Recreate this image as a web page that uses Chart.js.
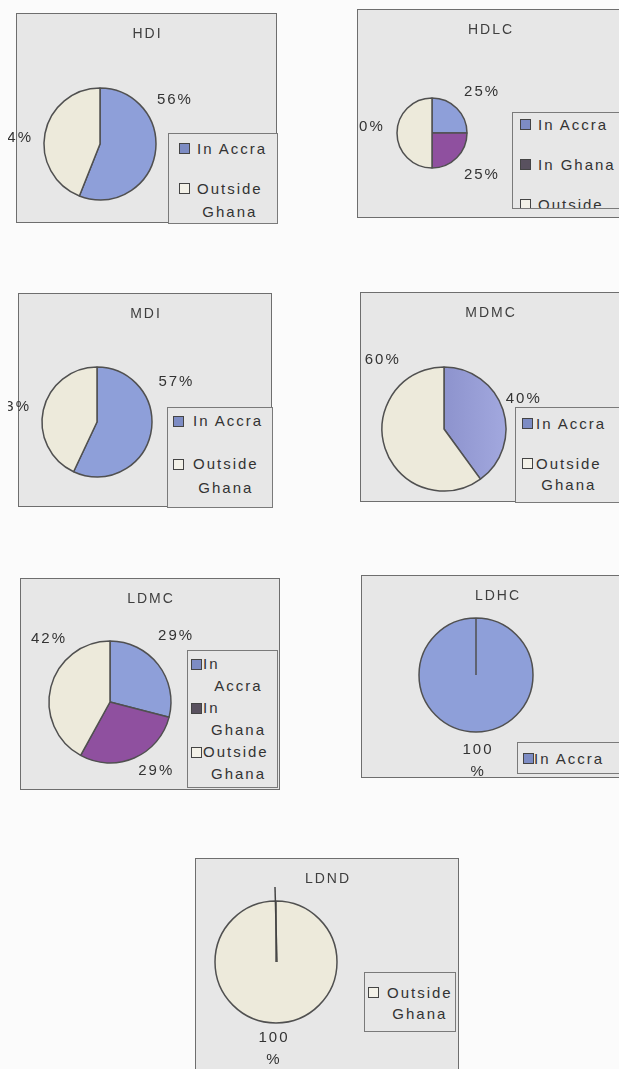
<!DOCTYPE html>
<html>
<head>
<meta charset="utf-8">
<script src="https://cdn.jsdelivr.net/npm/chart.js@4/dist/chart.umd.min.js"></script>
<style>
  html, body { margin: 0; padding: 0; background: #fbfbfb; }
  body { width: 619px; height: 1069px; position: relative; overflow: hidden;
         font-family: "Liberation Sans", Arial, sans-serif; }
  .panel { position: absolute; overflow: hidden; }
  .panel canvas { position: absolute; left: 0; top: 0; }
  .legend { position: absolute; background: #e7e7e7; border: 1px solid #7a7a7a;
            box-sizing: border-box; overflow: hidden; font-size: 15px;
            letter-spacing: 2px; color: #333; }
  .entry { display: flex; align-items: flex-start; }
  .sw { width: 11px; height: 11px; box-sizing: border-box; border: 1px solid #444; flex: none; }
  .col { display: inline-block; }
  .col div { text-align: center; white-space: nowrap; }
  .col div:first-child { text-align: left; }
</style>
</head>
<body>
<script>
// ---- chart data ----
const chartNames = ['HDI', 'HDLC', 'MDI', 'MDMC', 'LDMC', 'LDHC', 'LDND'];

const hdiCategories = ['In Accra', 'Outside Ghana'];
const hdiValues = [56, 44];

const hdlcCategories = ['In Accra', 'In Ghana', 'Outside Ghana'];
const hdlcValues = [25, 25, 50];

const mdiCategories = ['In Accra', 'Outside Ghana'];
const mdiValues = [57, 43];

const mdmcCategories = ['In Accra', 'Outside Ghana'];
const mdmcValues = [40, 60];

const ldmcCategories = ['In Accra', 'In Ghana', 'Outside Ghana'];
const ldmcValues = [29, 29, 42];

const ldhcCategories = ['In Accra'];
const ldhcValues = [100];

const ldndCategories = ['Outside Ghana'];
const ldndValues = [100];

// ---- styles ----
const sliceColors = { 'In Accra': '#8e9fd9', 'In Ghana': '#8f509f', 'Outside Ghana': '#edeadb' };
const swatchColors = { 'In Accra': '#7d8cc4', 'In Ghana': '#59515f', 'Outside Ghana': '#f3f1e8' };
const textFont = '15px "Liberation Sans", Arial, sans-serif';
const titleFont = '14px "Liberation Sans", Arial, sans-serif';

// page layout of each panel: clip = visible region [x, y, w, h], box = framed area,
// labels = [angle clockwise from 12 o'clock, distance in radii] per slice
const layout = {
  HDI:  { clip: [8, 6, 272, 222],   box: [16, 13, 261, 210],  center: [100, 144], r: 56,
          labels: [[59, 1.54], [274, 1.54]],
          legend: { rect: [168, 133, 110, 91], padTop: 2.5, padLeft: 11, lh: 23, gap: 17, swGap: 7, wrapAt: 80 } },
  HDLC: { clip: [357, 3, 262, 222], box: [357, 9, 266, 209],  center: [432, 133], r: 35,
          labels: [[50, 1.83], [130.6, 1.84], [275, 1.9]],
          legend: { rect: [512, 112, 120, 97], padTop: 0, padLeft: 8, lh: 23, gap: 17, swGap: 7, wrapAt: 80 } },
  MDI:  { clip: [8, 287, 268, 226], box: [18, 293, 254, 214], center: [97, 422],  r: 55,
          labels: [[63, 1.6], [280, 1.57]],
          legend: { rect: [167, 407, 106, 101], padTop: 1, padLeft: 6, lh: 24, gap: 19, swGap: 9, wrapAt: 79 } },
  MDMC: { clip: [358, 286, 261, 222], box: [360, 292, 260, 210], center: [444, 429], r: 62,
          labels: [[69, 1.36], [318, 1.5]], shadeAccra: true,
          legend: { rect: [515, 407, 120, 96], padTop: 4.5, padLeft: 7, lh: 21, gap: 19, swGap: 3, wrapAt: 80 } },
  LDMC: { clip: [12, 572, 276, 224], box: [20, 578, 260, 212], center: [110, 702], r: 61,
          labels: [[44.6, 1.52], [146.7, 1.35], [315.5, 1.45]],
          legend: { rect: [187, 650, 91, 138], padTop: 2, padLeft: 4, lh: 22, gap: 0, swGap: 1, wrapAt: 60, minCol: 71 } },
  LDHC: { clip: [355, 569, 264, 214], box: [361, 575, 272, 203], center: [476, 675], r: 57,
          labels: [[179.3, 1.5]], stacked: true,
          legend: { rect: [517, 742, 120, 32], padTop: 3.5, padLeft: 6, lh: 23, gap: 0, swGap: 0, wrapAt: 80 } },
  LDND: { clip: [190, 852, 274, 217], box: [195, 858, 264, 230], center: [276, 962], r: 61,
          labels: [[182, 1.43]], stacked: true, stem: 14,
          legend: { rect: [364, 972, 92, 60], padTop: 8.5, padLeft: 4, lh: 21, gap: 0, swGap: 8, wrapAt: 70 } }
};

// ---- plugins ----
const panelFrame = {
  id: 'panelFrame',
  beforeDraw(chart, args, o) {
    const ctx = chart.ctx;
    ctx.save();
    ctx.fillStyle = '#e7e7e7';
    ctx.fillRect(o.x, o.y, o.w, o.h);
    ctx.strokeStyle = '#6e6e6e';
    ctx.lineWidth = 1;
    ctx.strokeRect(o.x + 0.5, o.y + 0.5, o.w - 1, o.h - 1);
    ctx.fillStyle = '#3f3f3f';
    ctx.font = titleFont;
    ctx.letterSpacing = '2px';
    ctx.textAlign = 'center';
    ctx.textBaseline = 'middle';
    ctx.fillText(o.title, o.x + o.w / 2 + 1, o.y + 21);
    ctx.restore();
  }
};

const pctLabels = {
  id: 'pctLabels',
  afterDatasetsDraw(chart, args, o) {
    const ctx = chart.ctx;
    const meta = chart.getDatasetMeta(0);
    const values = chart.data.datasets[0].data;
    ctx.save();
    ctx.fillStyle = '#333';
    ctx.font = textFont;
    ctx.letterSpacing = '2px';
    ctx.textAlign = 'center';
    ctx.textBaseline = 'middle';
    meta.data.forEach((arc, i) => {
      const { x, y, outerRadius } = arc.getProps(['x', 'y', 'outerRadius'], true);
      const [deg, f] = o.anchors[i];
      const a = deg * Math.PI / 180;
      const lx = x + Math.sin(a) * f * outerRadius + 1;
      const ly = y - Math.cos(a) * f * outerRadius;
      if (o.stacked) {
        ctx.fillText(String(values[i]), lx, ly - 11);
        ctx.fillText('%', lx, ly + 11);
      } else {
        ctx.fillText(values[i] + '%', lx, ly);
      }
    });
    ctx.restore();
  }
};

// radial seam of a single full slice, continued past the rim
const seamStem = {
  id: 'seamStem',
  afterDatasetsDraw(chart, args, o) {
    if (!o.length) return;
    const arc = chart.getDatasetMeta(0).data[0];
    const { x, y, outerRadius } = arc.getProps(['x', 'y', 'outerRadius'], true);
    const ctx = chart.ctx;
    ctx.save();
    ctx.strokeStyle = '#444';
    ctx.lineWidth = 1.5;
    ctx.beginPath();
    ctx.moveTo(x + 1, y);
    ctx.lineTo(x - 1, y - outerRadius - o.length);
    ctx.stroke();
    ctx.restore();
  }
};

// ---- legend text wrapping ----
const measureCtx = document.createElement('canvas').getContext('2d');
measureCtx.font = textFont;
measureCtx.letterSpacing = '2px';
function wrapLabel(text, maxW) {
  const words = text.split(' ');
  const lines = [];
  let cur = '';
  words.forEach(w => {
    const t = cur ? cur + ' ' + w : w;
    if (cur && measureCtx.measureText(t).width > maxW) { lines.push(cur); cur = w; }
    else cur = t;
  });
  lines.push(cur);
  return lines;
}

function buildLegend(panel, cats, L, clip) {
  const g = L.legend;
  const box = document.createElement('div');
  box.className = 'legend';
  Object.assign(box.style, {
    left: (g.rect[0] - clip[0]) + 'px', top: (g.rect[1] - clip[1]) + 'px',
    width: g.rect[2] + 'px', height: g.rect[3] + 'px',
    paddingTop: g.padTop + 'px', paddingLeft: (g.padLeft - 1) + 'px', lineHeight: g.lh + 'px'
  });
  cats.forEach((c, i) => {
    const entry = document.createElement('div');
    entry.className = 'entry';
    if (i > 0) entry.style.marginTop = g.gap + 'px';
    const sw = document.createElement('span');
    sw.className = 'sw';
    sw.style.background = swatchColors[c];
    sw.style.marginTop = ((g.lh - 11) / 2) + 'px';
    sw.style.marginRight = g.swGap + 'px';
    const col = document.createElement('span');
    col.className = 'col';
    if (g.minCol) col.style.minWidth = g.minCol + 'px';
    wrapLabel(c, g.wrapAt).forEach(line => {
      const d = document.createElement('div');
      d.textContent = line;
      col.appendChild(d);
    });
    entry.appendChild(sw);
    entry.appendChild(col);
    box.appendChild(entry);
  });
  panel.appendChild(box);
}

// soft left-to-right shading used on one of the blue slices
function shadedBlue(ctx) {
  const area = ctx.chart.chartArea;
  if (!area) return sliceColors['In Accra'];
  const g = ctx.chart.ctx.createLinearGradient(area.left, 0, area.right, 0);
  g.addColorStop(0, '#8088c2');
  g.addColorStop(0.55, '#8f95cf');
  g.addColorStop(1, '#a3a9df');
  return g;
}

function buildPanel(name, cats, vals) {
  const L = layout[name];
  const [x0, y0, w, h] = L.clip;
  const panel = document.createElement('div');
  panel.className = 'panel';
  Object.assign(panel.style, { left: x0 + 'px', top: y0 + 'px', width: w + 'px', height: h + 'px' });
  const canvas = document.createElement('canvas');
  canvas.width = w;
  canvas.height = h;
  panel.appendChild(canvas);
  document.body.appendChild(panel);

  const px = L.center[0] - x0, py = L.center[1] - y0, b = 2;
  const fills = cats.map(c => (L.shadeAccra && c === 'In Accra') ? shadedBlue : sliceColors[c]);
  new Chart(canvas, {
    type: 'pie',
    data: {
      labels: cats,
      datasets: [{
        data: vals,
        backgroundColor: (ctx) => {
          const f = fills[ctx.dataIndex];
          return typeof f === 'function' ? f(ctx) : f;
        },
        borderColor: '#505050',
        borderWidth: 1.5
      }]
    },
    options: {
      responsive: false,
      animation: false,
      events: [],
      radius: L.r,
      layout: { padding: { left: px - L.r - b, right: w - px - L.r - b, top: py - L.r - b, bottom: h - py - L.r - b } },
      plugins: {
        legend: { display: false },
        title: { display: false },
        tooltip: { enabled: false },
        panelFrame: { title: name, x: L.box[0] - x0, y: L.box[1] - y0, w: L.box[2], h: L.box[3] },
        pctLabels: { anchors: L.labels, stacked: !!L.stacked },
        seamStem: { length: L.stem || 0 }
      }
    },
    plugins: [panelFrame, pctLabels, seamStem]
  });
  buildLegend(panel, cats, L, L.clip);
}

buildPanel(chartNames[0], hdiCategories, hdiValues);
buildPanel(chartNames[1], hdlcCategories, hdlcValues);
buildPanel(chartNames[2], mdiCategories, mdiValues);
buildPanel(chartNames[3], mdmcCategories, mdmcValues);
buildPanel(chartNames[4], ldmcCategories, ldmcValues);
buildPanel(chartNames[5], ldhcCategories, ldhcValues);
buildPanel(chartNames[6], ldndCategories, ldndValues);
</script>
</body>
</html>
